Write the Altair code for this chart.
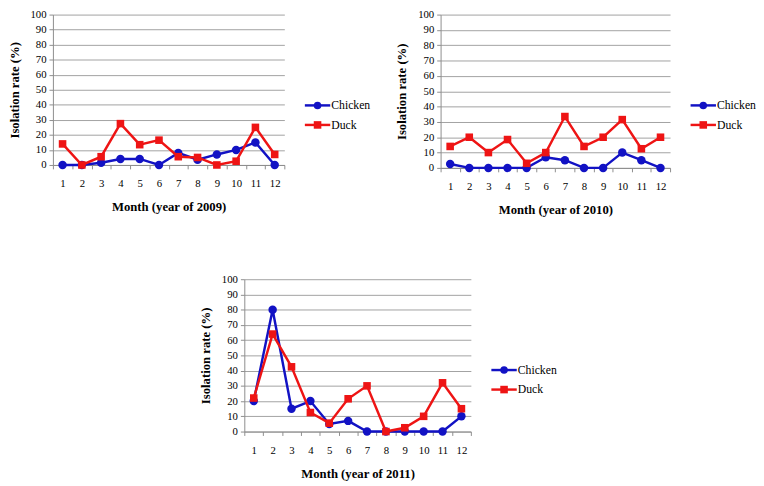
import altair as alt
import pandas as pd

months = ["1", "2", "3", "4", "5", "6", "7", "8", "9", "10", "11", "12"]
series = ["Chicken", "Duck"]
colors = ["#1212C4", "#EE1414"]
shapes = ["circle", "square"]
y_ticks = [0, 10, 20, 30, 40, 50, 60, 70, 80, 90, 100]

chicken_2009 = [0, 0, 1.5, 4, 4, 0, 8, 3.5, 7, 10, 15, 0]
duck_2009 = [14, 0, 5.5, 27.5, 13.5, 16.5, 5.5, 5, 0, 2.5, 25, 7]
chicken_2010 = [2.5, 0, 0, 0, 0, 7, 5, 0, 0, 10, 5, 0]
duck_2010 = [14, 20, 10, 18.5, 3, 10, 33.5, 14, 20, 31.5, 12.5, 20]
chicken_2011 = [20, 80, 15, 20, 5, 7, 0, 0, 0, 0, 0, 10]
duck_2011 = [22, 64, 42.5, 12.5, 5.5, 21.5, 30, 0, 2.5, 10, 32, 15]

FONT = "Times New Roman, Liberation Serif, DejaVu Serif, Noto Serif, FreeSerif, serif"


def make_plot(ch, du, year, w, h):
    df = pd.DataFrame({
        "Month": months * 2,
        "rate": ch + du,
        "series": ["Chicken"] * len(months) + ["Duck"] * len(months),
    })
    x = alt.X("Month:O", sort=months,
              scale=alt.Scale(paddingInner=0, paddingOuter=0),
              axis=alt.Axis(title=f"Month (year of {year})", labelAngle=0,
                            tickBand="extent", grid=False, ticks=True,
                            tickSize=4, labelPadding=9, titlePadding=13))
    y = alt.Y("rate:Q", scale=alt.Scale(domain=[0, 100], nice=False),
              axis=alt.Axis(title="Isolation rate (%)", values=y_ticks,
                            grid=True, tickSize=4, labelPadding=3,
                            titlePadding=9))
    color = alt.Color("series:N", scale=alt.Scale(domain=series, range=colors),
                      legend=None)
    layers = []
    for s, shp, sz in zip(series, shapes, [75, 60]):
        b = alt.Chart(df).transform_filter(alt.datum.series == s)
        layers.append(b.mark_line(strokeWidth=2.5).encode(x=x, y=y, color=color))
        layers.append(b.mark_point(filled=True, opacity=1, shape=shp, size=sz)
                      .encode(x=x, y=y, color=color))
    plot = alt.layer(*layers).properties(width=w, height=h)

    leg_df = pd.DataFrame({"series": series})
    ly = alt.Y("series:N", scale=alt.Scale(type="point", domain=series,
                                            range=[93, 113], padding=0),
               axis=None)
    lshape = alt.Shape("series:N", scale=alt.Scale(domain=series, range=shapes),
                       legend=None)
    lb = alt.Chart(leg_df)
    rule = lb.mark_rule(strokeWidth=2.5).encode(
        x=alt.value(0), x2=alt.value(26), y=ly, color=color)
    pts = lb.mark_point(filled=True, opacity=1, size=60).encode(
        x=alt.value(13), y=ly, color=color, shape=lshape)
    txt = lb.mark_text(align="left", baseline="middle", font=FONT,
                       fontSize=12, color="black").encode(
        x=alt.value(27), y=ly, text="series:N")
    legend = alt.layer(rule, pts, txt).properties(width=66, height=h)
    return alt.hconcat(plot, legend, spacing=18)


p1 = make_plot(chicken_2009, duck_2009, "2009", 237, 154)
p2 = make_plot(chicken_2010, duck_2010, "2010", 235, 157)
p3 = make_plot(chicken_2011, duck_2011, "2011", 232, 156)

spacer = alt.Chart(pd.DataFrame({"a": [0]})).mark_point(opacity=0).encode(
    x=alt.value(0), y=alt.value(0)).properties(width=150, height=10)

chart = alt.vconcat(
    alt.hconcat(p1, p2, spacing=26),
    alt.hconcat(spacer, p3, spacing=0),
    spacing=58,
).properties(
    padding={"top": -5, "left": 0, "right": 0, "bottom": 0}
).configure_view(stroke=None).configure_axis(
    labelFont=FONT, titleFont=FONT, labelFontSize=11, titleFontSize=13,
    titleFontWeight="bold", labelColor="black", titleColor="black",
    domainColor="#8c8c8c", tickColor="#8c8c8c", gridColor="#a0a0a0",
    gridWidth=1, domainWidth=1,
)

chart.save("out.html", embed_options={"renderer": "svg", "actions": False})
